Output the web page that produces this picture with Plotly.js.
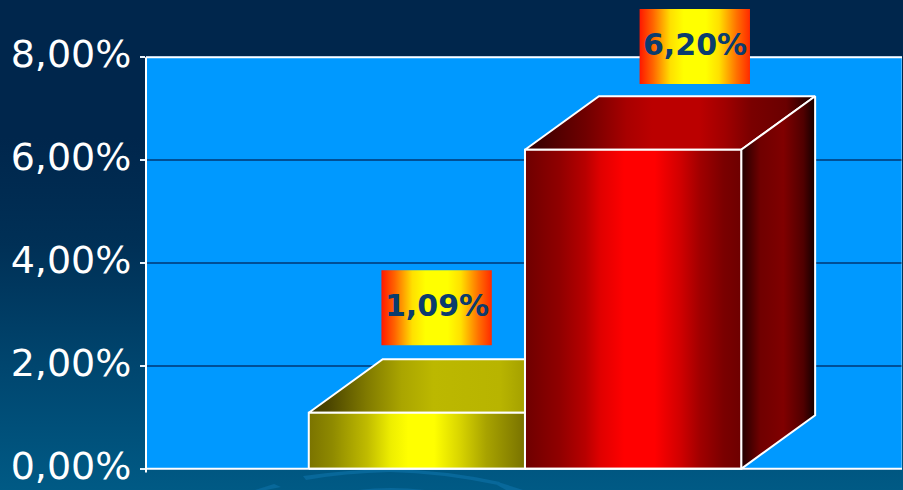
<!DOCTYPE html>
<html>
<head>
<meta charset="utf-8">
<script src="https://cdn.plot.ly/plotly-3.0.1.min.js"></script>
<style>
html,body{margin:0;padding:0;width:903px;height:490px;overflow:hidden;}
body{position:relative;background:linear-gradient(to bottom,#00264c 0%,#00264c 28%,#003056 50%,#00466f 75%,#005a85 100%);}
#swoosh{position:absolute;left:0;top:0;z-index:0;}
#chart{position:absolute;left:0;top:0;width:903px;height:490px;z-index:1;}
</style>
</head>
<body>
<!-- Faint backdrop arcs along the lower edge -->
<svg id="swoosh" width="903" height="490" viewBox="0 0 903 490">
  <g fill="#08689a">
    <path d="M303 476 Q345 470 390 469 Q445 470 500 482 L498 485 Q440 473 390 472 Q345 473 306 480 Z"/>
    <path d="M255 490 L274 484 L281 487 L266 490 Z"/>
    <path d="M358 490 Q390 486 425 490 Z"/>
    <path d="M498 482 L523 490 L506 490 L497 485 Z"/>
  </g>
</svg>
<div id="chart"></div>
<script>
// Values
var seriesNames = ['Primo', 'Secondo'];
var seriesValues = [1.09, 6.20];
var valueLabels = ['1,09%', '6,20%'];
var tickValues = [0, 2, 4, 6, 8];
var tickLabels = ['0,00%', '2,00%', '4,00%', '6,00%', '8,00%'];

// Single category axis running 0..1; the cluster sits in the middle of it
var barWidth = 0.286;
var depthX = 0.0978;
var depthY = 1.04;
var clusterStart = 0.2153;

// Placement of the value tags
var tagCentres = [0.3844, 0.7259];
var tagGaps = [1.31, 1.277];
var tagHalfWidth = 0.073;
var tagHeight = 1.459;

function ramp(stops) {
  return {type: 'horizontal', colorscale: stops};
}
var yellowFront = [[0,'#7a7300'],[0.11,'#8f8a00'],[0.27,'#c0bb00'],[0.38,'#eeee00'],[0.46,'#ffff00'],[0.58,'#ffff00'],[0.7,'#d8d400'],[0.82,'#a8a300'],[1,'#787200']];
var yellowTop = [[0,'#3f3a00'],[0.065,'#4a4400'],[0.2,'#807a00'],[0.32,'#aaa500'],[0.43,'#bcb800'],[0.66,'#b8b400'],[0.73,'#a8a400'],[1,'#7a7500']];
var redFront = [[0,'#6e0000'],[0.16,'#900000'],[0.28,'#b80000'],[0.35,'#e00000'],[0.46,'#ff0000'],[0.6,'#ff0000'],[0.72,'#d00000'],[0.81,'#a00000'],[0.92,'#7a0000'],[1,'#6e0000']];
var redTop = [[0,'#300000'],[0.03,'#3a0000'],[0.21,'#700000'],[0.35,'#a80000'],[0.44,'#bb0000'],[0.6,'#bb0000'],[0.69,'#a00000'],[0.78,'#7a0000'],[0.9,'#6a0000'],[1,'#100000']];
var redSide = [[0,'#200000'],[0.26,'#700000'],[0.57,'#800000'],[0.84,'#500000'],[1,'#100000']];
var tagRamp = [[0,'#ff1800'],[0.12,'#ff6400'],[0.28,'#ffe000'],[0.4,'#ffff00'],[0.6,'#ffff00'],[0.72,'#ffe000'],[0.88,'#ff7000'],[1,'#ff2a00']];

function face(xs, ys, stops, name) {
  return {
    type: 'scatter', mode: 'lines', x: xs, y: ys, fill: 'toself',
    fillgradient: ramp(stops), line: {color: '#ffffff', width: 2},
    hoverinfo: 'skip', showlegend: false, cliponaxis: false, name: name
  };
}

// Panel frame sits above the gridlines and below the blocks and tags
var traces = [
  {type: 'scatter', mode: 'lines', x: [0, 1], y: [8, 8], line: {color: '#ffffff', width: 2},
   hoverinfo: 'skip', showlegend: false, cliponaxis: false, name: 'top edge'},
  {type: 'scatter', mode: 'lines', x: [1, 1], y: [0, 8], line: {color: 'rgba(255,255,255,0.6)', width: 1},
   hoverinfo: 'skip', showlegend: false, cliponaxis: false, name: 'right edge'}
];
var frontRamps = [yellowFront, redFront];
var topRamps = [yellowTop, redTop];
var sideRamps = [yellowFront, redSide];
seriesValues.forEach(function (v, i) {
  var x0 = clusterStart + i * barWidth;
  var x1 = x0 + barWidth;
  traces.push(face([x0, x0 + depthX, x1 + depthX, x1, x0], [v, v + depthY, v + depthY, v, v], topRamps[i], seriesNames[i] + ' top'));
  traces.push(face([x1, x1 + depthX, x1 + depthX, x1, x1], [v, v + depthY, depthY, 0, v], sideRamps[i], seriesNames[i] + ' side'));
  traces.push(face([x0, x1, x1, x0, x0], [0, 0, v, v, 0], frontRamps[i], seriesNames[i]));
});

// Value tags floating above each block
var annotations = [];
seriesValues.forEach(function (v, i) {
  var cx = tagCentres[i];
  var lo = v + tagGaps[i], hi = lo + tagHeight;
  traces.push({
    type: 'scatter', mode: 'lines',
    x: [cx - tagHalfWidth, cx + tagHalfWidth, cx + tagHalfWidth, cx - tagHalfWidth, cx - tagHalfWidth],
    y: [lo, lo, hi, hi, lo], fill: 'toself', fillgradient: ramp(tagRamp),
    line: {width: 0}, hoverinfo: 'skip', showlegend: false, cliponaxis: false
  });
  annotations.push({
    x: cx, y: (lo + hi) / 2 + 0.045, xref: 'x', yref: 'y', text: '<b>' + valueLabels[i] + '</b>',
    showarrow: false, font: {family: '"DejaVu Sans", sans-serif', size: 30, color: '#0a3c6e'}
  });
});

// The panel is a shape so that the upper tag may rise above its top edge
var shapes = [
  {type: 'rect', layer: 'below', xref: 'paper', yref: 'y', x0: 0, x1: 1, y0: 0, y1: 8, fillcolor: '#0099ff', line: {width: 0}},
  {type: 'line', layer: 'above', xref: 'paper', yref: 'y', x0: 0, x1: 1, y0: 0, y1: 0, line: {color: '#ffffff', width: 2}},
  {type: 'line', layer: 'above', xref: 'paper', yref: 'y', x0: 0, x1: 0, y0: -0.07, y1: 8, line: {color: '#ffffff', width: 2}}
];

var layout = {
  width: 903, height: 490,
  margin: {l: 145.5, r: 0.5, t: 8.4, b: 15.13, pad: 0},
  paper_bgcolor: 'rgba(0,0,0,0)',
  plot_bgcolor: 'rgba(0,0,0,0)',
  showlegend: false,
  xaxis: {range: [0, 1], showgrid: false, zeroline: false, showticklabels: false, fixedrange: true,
          showline: false, ticks: ''},
  yaxis: {range: [-0.12, 8.955], tickvals: tickValues, ticktext: tickLabels, ticks: 'outside', ticklen: 5,
          tickwidth: 2, tickcolor: '#e8f2fa', showline: false, ticklabelshift: -3, ticklabelstandoff: 1,
          ticklabeloverflow: 'allow', zeroline: false, gridcolor: '#004f96', gridwidth: 2,
          tickfont: {family: '"DejaVu Sans", sans-serif', size: 38, color: '#ffffff'}, fixedrange: true},
  shapes: shapes,
  annotations: annotations
};
Plotly.newPlot('chart', traces, layout, {displayModeBar: false, staticPlot: true});
</script>
</body>
</html>
